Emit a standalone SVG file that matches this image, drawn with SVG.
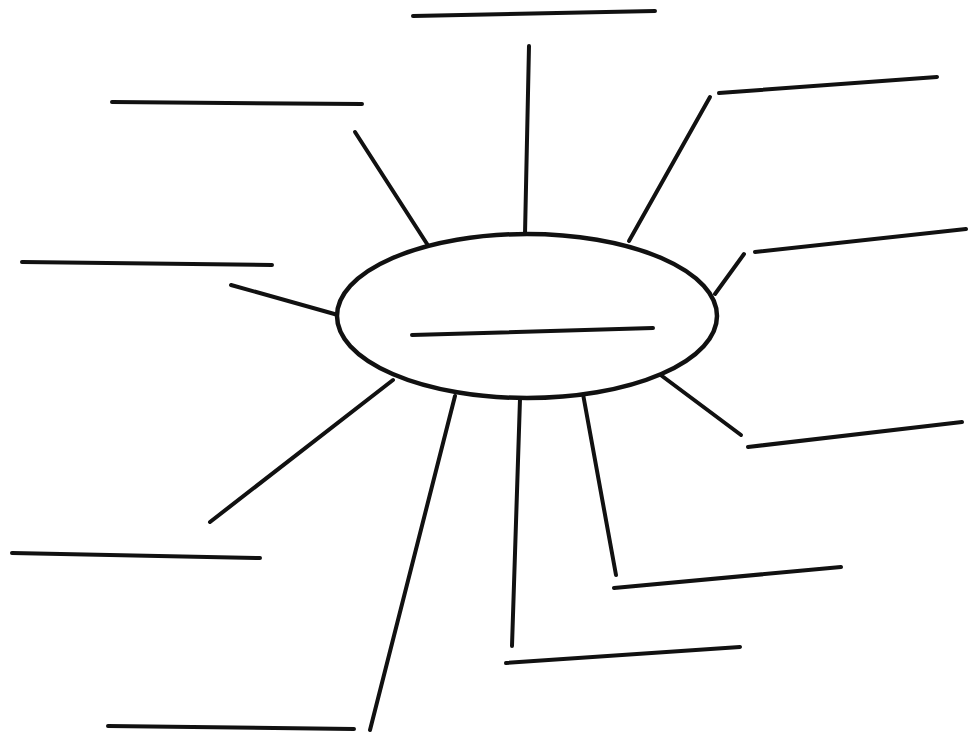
<svg xmlns="http://www.w3.org/2000/svg" width="970" height="737" viewBox="0 0 970 737">
<style>
.ln{stroke:#111;stroke-width:4;stroke-linecap:round;fill:none}
.ov{stroke:#111;stroke-width:4.5;fill:#fff}
</style>
<rect width="970" height="737" fill="#fff"/>
<g id="connectors">
<line class="ln" x1="529" y1="46" x2="525" y2="234"/>
<line class="ln" x1="355" y1="132" x2="429" y2="247"/>
<line class="ln" x1="710" y1="97" x2="629" y2="241"/>
<line class="ln" x1="744" y1="254" x2="715" y2="294"/>
<line class="ln" x1="231" y1="285" x2="338" y2="315"/>
<line class="ln" x1="658" y1="373" x2="741" y2="435"/>
<line class="ln" x1="393" y1="380" x2="210" y2="522"/>
<line class="ln" x1="455" y1="396" x2="370" y2="730"/>
<line class="ln" x1="520" y1="399" x2="512" y2="646"/>
<line class="ln" x1="583" y1="394" x2="616" y2="575"/>
</g>
<g id="center">
<ellipse class="ov" cx="527" cy="316" rx="190" ry="82"/>
<line class="ln" x1="412" y1="335" x2="653" y2="328"/>
</g>
<g id="blank-top"><line class="ln" x1="413" y1="16" x2="655" y2="11"/></g>
<g id="blank-upper-left"><line class="ln" x1="112" y1="102" x2="362" y2="104"/></g>
<g id="blank-upper-right"><line class="ln" x1="719" y1="93" x2="937" y2="77"/></g>
<g id="blank-right"><line class="ln" x1="755" y1="252" x2="966" y2="229"/></g>
<g id="blank-left"><line class="ln" x1="22" y1="262" x2="272" y2="265"/></g>
<g id="blank-lower-right"><line class="ln" x1="748" y1="447" x2="962" y2="422"/></g>
<g id="blank-lower-left"><line class="ln" x1="12" y1="553" x2="260" y2="558"/></g>
<g id="blank-bottom-left"><line class="ln" x1="108" y1="726" x2="354" y2="729"/></g>
<g id="blank-bottom"><line class="ln" x1="506" y1="663" x2="740" y2="647"/></g>
<g id="blank-bottom-right"><line class="ln" x1="614" y1="588" x2="841" y2="567"/></g>
</svg>
